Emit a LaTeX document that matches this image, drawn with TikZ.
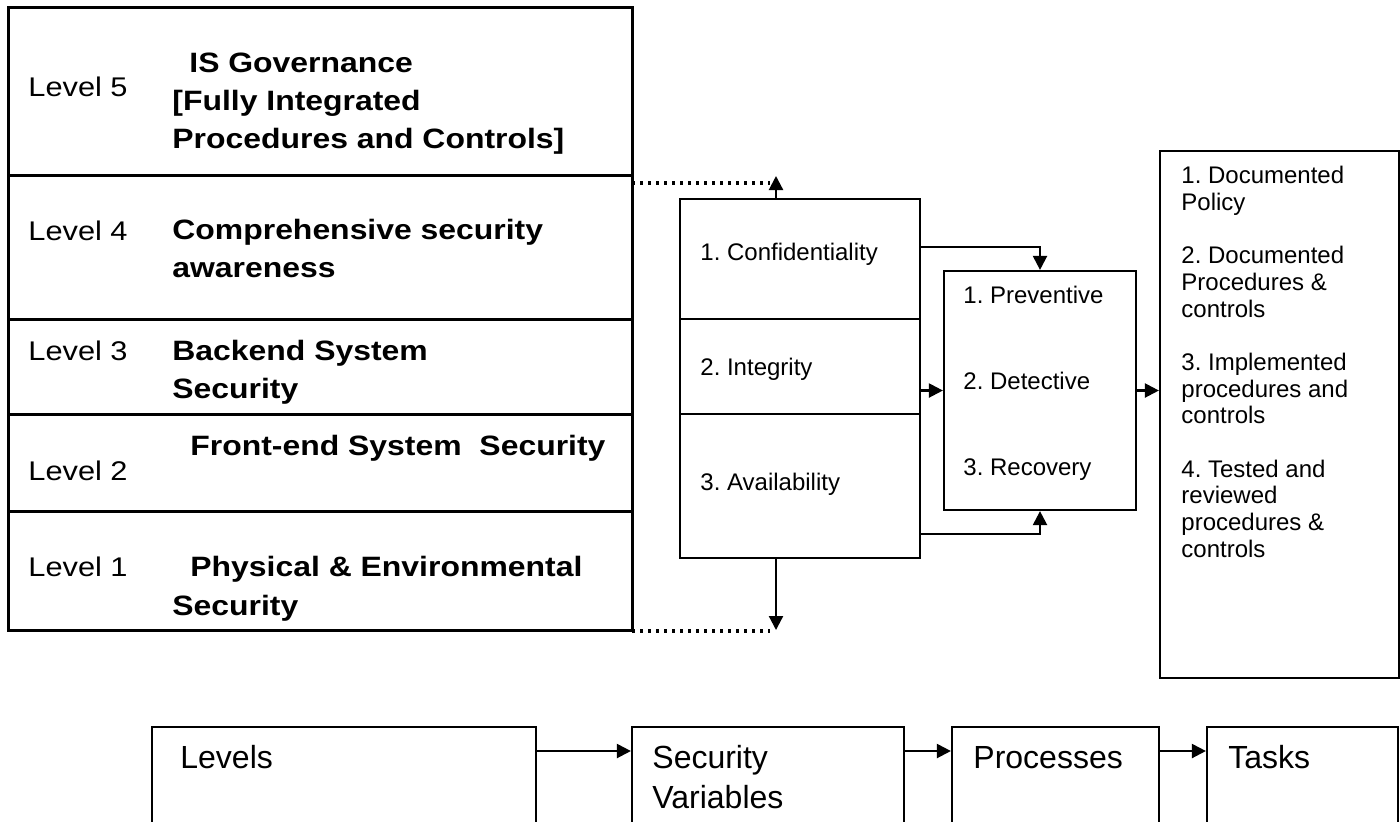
\documentclass[tikz,border=0pt]{standalone}
\usepackage{fontspec}
\setmainfont{Liberation Sans}
\newfontfamily\widefont[FakeStretch=1.14]{Liberation Sans}
\usetikzlibrary{arrows.meta,fit}
\frenchspacing
\begin{document}
\frenchspacing
\begin{tikzpicture}[x=0.5pt,y=-0.5pt,
  thickbox/.style={draw, line width=1.5pt, inner sep=0pt},
  thinbox/.style={draw, line width=1.1pt, inner sep=0pt},
  lvl/.style={anchor=base west, inner sep=0pt, font=\widefont\fontsize{13.5}{16}\selectfont},
  ttl/.style={anchor=base west, inner sep=0pt, font=\widefont\bfseries\fontsize{14}{19}\selectfont},
  mid/.style={anchor=base west, inner sep=0pt, font=\fontsize{12}{14}\selectfont},
  big/.style={anchor=base west, inner sep=0pt, font=\fontsize{16}{20}\selectfont},
  arr/.style={line width=1.1pt, -{Triangle[length=7pt,width=7pt]}},
  dots/.style={line width=1.8pt, dash pattern=on 1.5pt off 2.5pt}
]
\useasboundingbox (0,0) rectangle (1400,821);
\clip (0,0) rectangle (1400,821);
\fill[white] (0,0) rectangle (1400,821);

% ---- level stack ----
\node[thickbox, fit={(8,7) (632,175)}] (L5) {};
\node[thickbox, fit={(8,175) (632,319)}] (L4) {};
\node[thickbox, fit={(8,319) (632,414)}] (L3) {};
\node[thickbox, fit={(8,414) (632,511)}] (L2) {};
\node[thickbox, fit={(8,511) (632,630)}] (L1) {};

\node[lvl] (l5a) at (28,96) {Level 5};
\node[ttl] (l5b) at (189,72) {IS Governance};
\node[ttl] (l5c) at (172,110) {[Fully Integrated};
\node[ttl] (l5d) at (172,148) {Procedures and Controls]};

\node[lvl] (l4a) at (28,240) {Level 4};
\node[ttl] (l4b) at (172,239) {Comprehensive security};
\node[ttl] (l4c) at (172,277) {awareness};

\node[lvl] (l3a) at (28,360) {Level 3};
\node[ttl] (l3b) at (172,360) {Backend System};
\node[ttl] (l3c) at (172,398) {Security};

\node[lvl] (l2a) at (28,480) {Level 2};
\node[ttl] (l2b) at (190,455) {Front-end System\ \ Security};

\node[lvl] (l1a) at (28,576) {Level 1};
\node[ttl] (l1b) at (190,576) {Physical \& Environmental};
\node[ttl] (l1c) at (172,615) {Security};

% ---- security variables ----
\node[thinbox, fit={(680,199) (920,319)}] (C1) {};
\node[thinbox, fit={(680,319) (920,414)}] (C2) {};
\node[thinbox, fit={(680,414) (920,558)}] (C3) {};
\node[mid] (c1t) at (700,260) {1. Confidentiality};
\node[mid] (c2t) at (700,375) {2. Integrity};
\node[mid] (c3t) at (700,490) {3. Availability};

% ---- processes ----
\node[thinbox, fit={(944,271) (1136,510)}] (P) {};
\node[mid] (p1t) at (963,303) {1. Preventive};
\node[mid] (p2t) at (963,389) {2. Detective};
\node[mid] (p3t) at (963,475) {3. Recovery};

% ---- tasks ----
\node[thinbox, fit={(1160,151) (1399,678)}] (T) {};
\node[mid] (t1) at (1181,183) {1. Documented};
\node[mid] (t2) at (1181,210) {Policy};
\node[mid] (t3) at (1181,263) {2. Documented};
\node[mid] (t4) at (1181,290) {Procedures \&};
\node[mid] (t5) at (1181,317) {controls};
\node[mid] (t6) at (1181,370) {3. Implemented};
\node[mid] (t7) at (1181,397) {procedures and};
\node[mid] (t8) at (1181,423) {controls};
\node[mid] (t9) at (1181,477) {4. Tested and};
\node[mid] (t10) at (1181,503) {reviewed};
\node[mid] (t11) at (1181,530) {procedures \&};
\node[mid] (t12) at (1181,557) {controls};

% ---- connectors ----
\coordinate (upTip) at (776,176);
\coordinate (dotA) at (632,183);
\draw[arr] (upTip |- C1.north) -- (upTip);
\draw[dots] (dotA) -- ([xshift=-3pt]dotA -| upTip);

\coordinate (downTip) at (776,630);
\coordinate (dotB) at (632,631);
\draw[arr] (downTip |- C3.south) -- (downTip);
\draw[dots] (dotB) -- ([xshift=-3pt]dotB -| downTip);

\coordinate (cp) at (920,247);
\coordinate (cq) at (920,534);
\draw[arr] (C1.east |- cp) -| (P.north);
\draw[arr] (C3.east |- cq) -| (P.south);
\draw[arr] (C2.east |- P.west) -- (P.west);
\draw[arr] (P.east) -- (P.east -| T.west);

% ---- bottom row ----
\node[thinbox, fit={(152,727) (536,860)}] (B1) {};
\node[thinbox, fit={(632,727) (904,860)}] (B2) {};
\node[thinbox, fit={(952,727) (1159,860)}] (B3) {};
\node[thinbox, fit={(1207,727) (1398,860)}] (B4) {};
\node[big] (b1t) at (180,768) {Levels};
\node[big] (b2t) at (652,768) {Security};
\node[big] (b2u) at (652,808) {Variables};
\node[big] (b3t) at (973,768) {Processes};
\node[big] (b4t) at (1228,768) {Tasks};

\coordinate (brow) at (0,751);
\draw[arr] (B1.east |- brow) -- (B2.west |- brow);
\draw[arr] (B2.east |- brow) -- (B3.west |- brow);
\draw[arr] (B3.east |- brow) -- (B4.west |- brow);
\end{tikzpicture}
\end{document}
